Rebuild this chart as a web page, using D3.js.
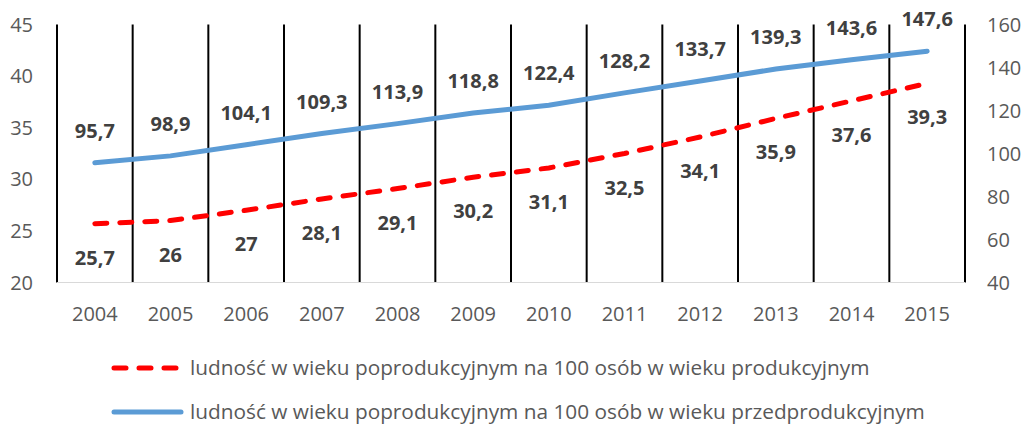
<!DOCTYPE html>
<html>
<head>
<meta charset="utf-8">
<script src="https://cdn.jsdelivr.net/npm/d3@7"></script>
<style>
  body { margin: 0; background: #fff; }
  #chart { width: 1025px; height: 426px; }
  text { font-family: "Open Sans", "Liberation Sans", sans-serif; }
</style>
</head>
<body>
<div id="chart"></div>
<script>
// chart data
const years = ["2004", "2005", "2006", "2007", "2008", "2009", "2010", "2011", "2012", "2013", "2014", "2015"];
const produkcyjny = [25.7, 26, 27, 28.1, 29.1, 30.2, 31.1, 32.5, 34.1, 35.9, 37.6, 39.3];
const przedprodukcyjny = [95.7, 98.9, 104.1, 109.3, 113.9, 118.8, 122.4, 128.2, 133.7, 139.3, 143.6, 147.6];
const leftTicks = [20, 25, 30, 35, 40, 45];
const rightTicks = [40, 60, 80, 100, 120, 140, 160];
const legendLabels = [
    "ludność w wieku poprodukcyjnym na 100 osób w wieku produkcyjnym",
    "ludność w wieku poprodukcyjnym na 100 osób w wieku przedprodukcyjnym"
];

const width = 1025, height = 426;
const margin = { top: 24.5, right: 60, bottom: 143.5, left: 57 };
const innerW = width - margin.left - margin.right;
const innerH = height - margin.top - margin.bottom;

const svg = d3.select("#chart").append("svg")
    .attr("width", width)
    .attr("height", height);

const g = svg.append("g")
    .attr("transform", `translate(${margin.left},${margin.top})`);

const x = d3.scaleBand().domain(years).range([0, innerW]);
const yL = d3.scaleLinear().domain([20, 45]).range([innerH, 0]);
const yR = d3.scaleLinear().domain([40, 160]).range([innerH, 0]);

// vertical separators between categories
const bounds = years.map(d => x(d)).concat([innerW]);
g.selectAll(".sep")
    .data(bounds)
    .join("line")
    .attr("x1", d => d).attr("x2", d => d)
    .attr("y1", 0).attr("y2", innerH)
    .attr("stroke", "#000")
    .attr("stroke-width", 2);

// category axis line
g.append("line")
    .attr("x1", 0).attr("x2", innerW)
    .attr("y1", innerH).attr("y2", innerH)
    .attr("stroke", "#d9d9d9")
    .attr("stroke-width", 1);

// left axis labels
g.selectAll(".tl")
    .data(leftTicks)
    .join("text")
    .attr("x", -24)
    .attr("y", d => yL(d))
    .attr("dy", "0.35em")
    .attr("text-anchor", "end")
    .attr("fill", "#595959")
    .attr("font-size", 20)
    .text(d => d);

// right axis labels
g.selectAll(".tr")
    .data(rightTicks)
    .join("text")
    .attr("x", innerW + 22)
    .attr("y", d => yR(d))
    .attr("dy", "0.35em")
    .attr("text-anchor", "start")
    .attr("fill", "#595959")
    .attr("font-size", 20)
    .text(d => d);

// x labels
g.selectAll(".tx")
    .data(years)
    .join("text")
    .attr("x", d => x(d) + x.bandwidth() / 2)
    .attr("y", innerH + 31)
    .attr("dy", "0.35em")
    .attr("text-anchor", "middle")
    .attr("fill", "#595959")
    .attr("font-size", 20)
    .text(d => d);

const cx = (d, i) => x(years[i]) + x.bandwidth() / 2;

// blue line (right axis)
const lineR = d3.line().x((d, i) => cx(d, i)).y(d => yR(d));
g.append("path")
    .datum(przedprodukcyjny)
    .attr("d", lineR)
    .attr("fill", "none")
    .attr("stroke", "#5b9bd5")
    .attr("stroke-width", 5)
    .attr("stroke-linecap", "round");

// red dashed line (left axis)
const lineL = d3.line().x((d, i) => cx(d, i)).y(d => yL(d));
g.append("path")
    .datum(produkcyjny)
    .attr("d", lineL)
    .attr("fill", "none")
    .attr("stroke", "#ff0000")
    .attr("stroke-width", 5)
    .attr("stroke-linecap", "round")
    .attr("stroke-dasharray", "12,13");

const fmt = v => String(v).replace(".", ",");

// labels
g.selectAll(".lb")
    .data(przedprodukcyjny)
    .join("text")
    .attr("x", (d, i) => cx(d, i))
    .attr("y", d => yR(d) - 32)
    .attr("dy", "0.35em")
    .attr("text-anchor", "middle")
    .attr("fill", "#404040")
    .attr("font-weight", "bold")
    .attr("font-size", 20)
    .text(fmt);

g.selectAll(".lr")
    .data(produkcyjny)
    .join("text")
    .attr("x", (d, i) => cx(d, i))
    .attr("y", d => yL(d) + 34)
    .attr("dy", "0.35em")
    .attr("text-anchor", "middle")
    .attr("fill", "#404040")
    .attr("font-weight", "bold")
    .attr("font-size", 20)
    .text(fmt);

// legend
const legend = svg.append("g");
const legendItems = [
    { label: legendLabels[0], color: "#ff0000", dash: "12,13", y: 368 },
    { label: legendLabels[1], color: "#5b9bd5", dash: null, y: 412 }
];
legendItems.forEach(item => {
    legend.append("line")
        .attr("x1", 114).attr("x2", 181)
        .attr("y1", item.y).attr("y2", item.y)
        .attr("stroke", item.color)
        .attr("stroke-width", 5)
        .attr("stroke-linecap", "round")
        .attr("stroke-dasharray", item.dash);
    legend.append("text")
        .attr("x", 190)
        .attr("y", item.y)
        .attr("dy", "0.35em")
        .attr("fill", "#595959")
        .attr("font-size", 20.8)
        .text(item.label);
});
</script>
</body>
</html>
